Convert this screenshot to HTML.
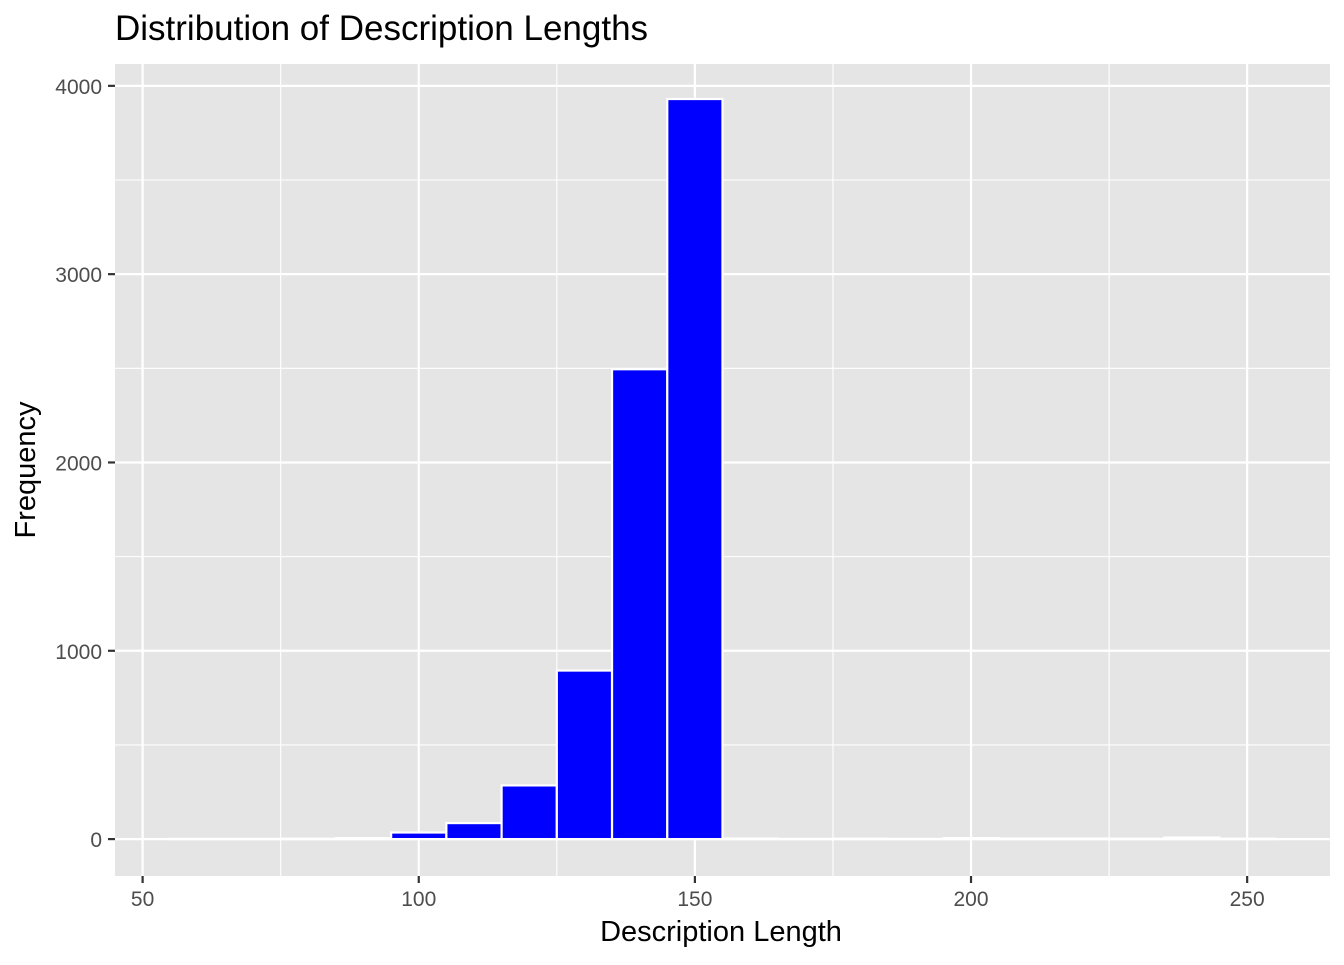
<!DOCTYPE html>
<html><head><meta charset="utf-8"><style>
body{margin:0;background:#fff;}
svg text{font-family:"Liberation Sans",Arial,sans-serif;}
</style></head><body>
<svg id="chart" width="1344" height="960">
<rect x="0" y="0" width="1344" height="960" fill="#fff"/>
<text x="115" y="40" font-size="35" fill="#000">Distribution of Description Lengths</text>
<g id="panel"></g>
<text x="721" y="941" font-size="29" text-anchor="middle" fill="#000">Description Length</text>
<text transform="translate(35,470) rotate(-90)" font-size="29" text-anchor="middle" fill="#000">Frequency</text>
</svg>
<script>
const binCenters=[60,70,80,90,100,110,120,130,140,150,160,170,180,190,200,210,220,230,240,250];
const counts=[1,1,2,5,35,85,285,895,2495,3930,3,1,2,1,5,3,3,2,8,2];
const xTicks=[50,100,150,200,250];
const yTicks=[0,1000,2000,3000,4000];
const binWidth=10;
const P={l:115,r:1330,t:64,b:876};
const xMin=45,xMax=265,yMin=-196,yMax=4116;
const sx=v=>P.l+(v-xMin)/(xMax-xMin)*(P.r-P.l);
const sy=v=>P.b-(v-yMin)/(yMax-yMin)*(P.b-P.t);
const NS="http://www.w3.org/2000/svg";
const svg=document.getElementById('chart');
const g=document.getElementById('panel');
function mk(tag,attrs,parent){const e=document.createElementNS(NS,tag);for(const k in attrs)e.setAttribute(k,attrs[k]);(parent||g).appendChild(e);return e;}
const bg=mk('rect',{x:P.l,y:P.t,width:P.r-P.l,height:P.b-P.t,fill:'#e5e5e5'});


for(let i=0;i<xTicks.length-1;i++){const v=(xTicks[i]+xTicks[i+1])/2;const l=mk('line',{x1:sx(v),x2:sx(v),y1:P.t,y2:P.b,stroke:'#fff','stroke-width':1.1});

}
for(let i=0;i<yTicks.length;i++){const v=yTicks[i]+500;if(v<yMax){const l=mk('line',{x1:P.l,x2:P.r,y1:sy(v),y2:sy(v),stroke:'#fff','stroke-width':1.1});

}}
xTicks.forEach(v=>{const l=mk('line',{x1:sx(v),x2:sx(v),y1:P.t,y2:P.b,stroke:'#fff','stroke-width':2.2});


const t=mk('line',{x1:sx(v),x2:sx(v),y1:P.b,y2:P.b+7,stroke:'#333','stroke-width':2.2},svg);


const tx=mk('text',{x:sx(v),y:P.b+30,'font-size':21,'text-anchor':'middle',fill:'#4d4d4d'},svg);tx.textContent=v;

});
yTicks.forEach(v=>{const l=mk('line',{x1:P.l,x2:P.r,y1:sy(v),y2:sy(v),stroke:'#fff','stroke-width':2.2});


const t=mk('line',{x1:P.l-7,x2:P.l,y1:sy(v),y2:sy(v),stroke:'#333','stroke-width':2.2},svg);


const tx=mk('text',{x:P.l-13,y:sy(v)+8,'font-size':21,'text-anchor':'end',fill:'#4d4d4d'},svg);tx.textContent=v;

});
binCenters.forEach((c,i)=>{const x0=sx(c-binWidth/2),x1=sx(c+binWidth/2),y0=sy(counts[i]),y1=sy(0);
const r=mk('rect',{x:x0,y:y0,width:x1-x0,height:y1-y0,fill:'#0000ff',stroke:'#fff','stroke-width':2.2});

});
</script>
</body></html>
